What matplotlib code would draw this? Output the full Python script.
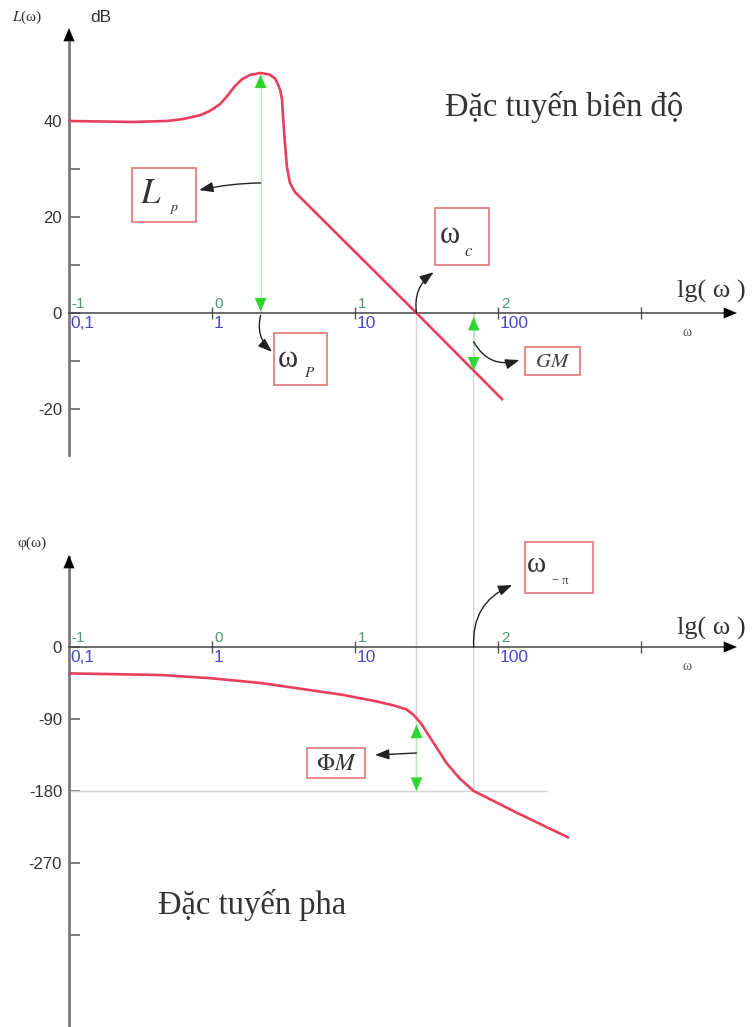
# Bode diagram: magnitude and phase characteristics with margins

import matplotlib
matplotlib.use('Agg')
import matplotlib.pyplot as plt
from matplotlib.patches import Rectangle, ConnectionPatch

plt.rcParams['mathtext.fontset'] = 'stix'

SANS = ['Liberation Sans', 'DejaVu Sans']
SERIF = ['Liberation Serif', 'DejaVu Serif']

# Magnitude characteristic L(w), x = lg(w)
mag_lg = [-1.0, -0.55, -0.315, -0.203, -0.084, -0.014, 0.056, 0.112, 0.161, 0.210,
          0.266, 0.34, 0.40, 0.44, 0.462, 0.478, 0.490, 0.497, 0.510, 0.524, 0.545,
          0.58, 1.43, 2.03]
mag_db = [40.0, 39.8, 40.0, 40.4, 41.2, 42.1, 43.5, 45.4, 47.3, 48.7,
          49.6, 50.0, 49.7, 48.9, 47.6, 46.3, 44.4, 40.8, 35.4, 30.4, 27.1,
          25.2, 0.0, -18.0]

# Phase characteristic phi(w)
phase_lg = [-1.0, -0.36, -0.01, 0.34, 0.69, 0.92, 1.15, 1.27, 1.36, 1.41, 1.46,
            1.55, 1.64, 1.73, 1.83, 2.13, 2.49]
phase_deg = [-33, -35, -39, -45, -54, -60, -68, -73, -78, -85, -95,
             -120, -145, -164, -180, -207, -238]

# Characteristic frequencies (lg) and levels
lg_peak, L_peak = 0.34, 50.0
lg_c = 1.43
lg_pi, L_pi = 1.83, -12.0
phi_c = -90

# Axis ticks and labels
mag_ticks = [-20, -10, 0, 10, 20, 30, 40]
mag_labels = ['-20', '', '0', '', '20', '', '40']
phase_ticks = [-360, -270, -180, -90, 0]
phase_labels = ['', '-270', '-180', '-90', '0']
dec_pos = [-1, 0, 1, 2]
dec_exp = ['-1', '0', '1', '2']
dec_val = ['0,1', '1', '10', '100']

curve_col = '#e8405c'
box_col = '#e06a6a'
green = '#2fd62f'
green_light = '#b8ecb8'
guide = '#d4d4d4'
txt = '#333333'

fig = plt.figure(figsize=(7.52, 10.27), dpi=100)
ax1 = fig.add_axes([69 / 752, 1 - 480 / 1027, 683 / 752, 480 / 1027])
ax2 = fig.add_axes([69 / 752, 0, 683 / 752, 547 / 1027])
ax1.set_xlim(-1, 683 / 143 - 1)
ax2.set_xlim(-1, 683 / 143 - 1)
ax1.set_ylim(-167 / 4.8, 313 / 4.8)
ax2.set_ylim(-380 / 0.8, 167 / 0.8)

x_end = 668 / 143 - 1


def setup(ax, ticks, labels, ybot, ytop, lg_y):
    ax.patch.set_visible(False)
    for s in ['top', 'right']:
        ax.spines[s].set_visible(False)
    ax.spines['left'].set_bounds(ybot, ytop - 3)
    ax.spines['left'].set_color('#7a7a7a')
    ax.spines['left'].set_linewidth(2.0)
    ax.spines['bottom'].set_position(('data', 0))
    ax.spines['bottom'].set_bounds(-1, x_end - 0.05)
    ax.spines['bottom'].set_color('#444444')
    ax.spines['bottom'].set_linewidth(1.1)
    ax.set_yticks(ticks)
    ax.set_yticklabels(labels, fontfamily=SANS, fontsize=12, color=txt)
    ax.tick_params(axis='y', direction='in', length=8, width=1.2, color='#666666', pad=5)
    ax.set_xticks([0, 1, 2, 3])
    ax.tick_params(axis='x', direction='inout', length=9, width=1.0, color='#555555',
                   labelbottom=False)
    # axis arrows
    ax.annotate('', xy=(-1, ytop), xytext=(-1, ytop - 1e-3 * (ytop - ybot)),
                arrowprops=dict(arrowstyle='-|>,head_length=0.6,head_width=0.25',
                                color='black', lw=0, mutation_scale=16),
                annotation_clip=False)
    ax.annotate('', xy=(x_end, 0), xytext=(x_end - 0.01, 0),
                arrowprops=dict(arrowstyle='-|>,head_length=0.6,head_width=0.25',
                                color='black', lw=0, mutation_scale=16),
                annotation_clip=False)
    for p, e, v in zip(dec_pos, dec_exp, dec_val):
        ax.annotate(e, xy=(p, 0), xytext=(2, 1.5), textcoords='offset points',
                    ha='left', va='bottom', fontsize=11, color='#4a9a6a', fontfamily=SANS)
        ax.annotate(v, xy=(p, 0), xytext=(1, -2.5), textcoords='offset points',
                    ha='left', va='top', fontsize=12.5, color='#4848c8', fontfamily=SANS)
    ax.text(3.25, lg_y, 'lg( ω )', fontsize=19, color=txt, fontfamily=SERIF,
            ha='left', va='bottom')
    ax.annotate('ω', xy=(3.29, 0), xytext=(0, -9), textcoords='offset points',
                ha='left', va='top', fontsize=10, color='#555555', fontfamily=SERIF)


setup(ax1, mag_ticks, mag_labels, (313 - 455) / 4.8, (313 - 28) / 4.8, 2.0)
setup(ax2, phase_ticks, phase_labels, -380 / 0.8, (647 - 555) / 0.8, 8.5)

# guide lines
ax1.plot([lg_peak, lg_peak], [0, L_peak], color=green_light, lw=1.0)
ax2.plot([-1, 2.34], [-180, -180], color=guide, lw=1.0)
for lg in (lg_c, lg_pi):
    con = ConnectionPatch(xyA=(lg, 0), coordsA=ax1.transData,
                          xyB=(lg, -180), coordsB=ax2.transData,
                          color=guide, lw=1.0, zorder=0)
    fig.add_artist(con)
ax1.plot([lg_pi, lg_pi], [0, L_pi], color=green_light, lw=1.0)
ax2.plot([lg_c, lg_c], [phi_c, -180], color=green_light, lw=1.0)

# curves
ax1.plot(mag_lg, mag_db, color=curve_col, lw=1.9, solid_capstyle='round',
         solid_joinstyle='round', zorder=3)
ax2.plot(phase_lg, phase_deg, color=curve_col, lw=1.9, solid_capstyle='round',
         solid_joinstyle='round', zorder=3)


def green_head(ax, x, y, ytail):
    ax.annotate('', xy=(x, y), xytext=(x, ytail),
                arrowprops=dict(arrowstyle='-|>,head_length=0.7,head_width=0.3',
                                color=green, lw=0, mutation_scale=14), zorder=4)


green_head(ax1, lg_peak, L_peak - 0.3, L_peak - 1.0)
green_head(ax1, lg_peak, 0.3, 1.0)
green_head(ax1, lg_pi, -0.8, -1.5)
green_head(ax1, lg_pi, L_pi, L_pi + 0.7)
green_head(ax2, lg_c, -97, -100)
green_head(ax2, lg_c, -180, -177)


def arrow(ax, start, end, rad):
    ax.annotate('', xy=end, xytext=start,
                arrowprops=dict(arrowstyle='-|>,head_length=0.6,head_width=0.22',
                                color='#222222', lw=1.0, mutation_scale=14,
                                shrinkA=0, shrinkB=0,
                                connectionstyle=f'arc3,rad={rad}'),
                annotation_clip=False, zorder=5)


def box(ax, x0, y0, x1, y1):
    ax.add_patch(Rectangle((x0, y0), x1 - x0, y1 - y0, fill=False, ec=box_col,
                           lw=1.1, clip_on=False, zorder=5))


# magnitude annotations
box(ax1, -0.559, 19.0, -0.112, 30.2)
ax1.text(-0.50, 25.0, '$L$', fontsize=25, color=txt, va='center', ha='left')
ax1.text(-0.30, 21.6, '$p$', fontsize=10, color=txt, va='center', ha='left')
arrow(ax1, (lg_peak, 27.1), (-0.09, 25.6), 0.05)

box(ax1, 1.559, 10.0, 1.937, 21.9)
ax1.text(1.59, 16.2, 'ω', fontsize=22, color=txt, fontfamily=SERIF, va='center', ha='left')
ax1.text(1.76, 13.0, '$c$', fontsize=12, color=txt, va='center', ha='left')
arrow(ax1, (lg_c, 0), (1.55, 8.5), -0.3)

box(ax1, 0.434, -15.0, 0.804, -4.2)
ax1.text(0.46, -9.6, 'ω', fontsize=22, color=txt, fontfamily=SERIF, va='center', ha='left')
ax1.text(0.64, -12.3, '$P$', fontsize=11, color=txt, va='center', ha='left')
arrow(ax1, (lg_peak, -0.5), (0.42, -8.1), 0.3)

box(ax1, 2.189, -12.9, 2.573, -7.1)
ax1.text(2.38, -10.0, '$GM$', fontsize=15, color='#444444', va='center', ha='center')
arrow(ax1, (lg_pi, -6.0), (2.15, -9.8), 0.4)

ax1.text(1.63, 43.0, 'Đặc tuyến biên độ', fontsize=23.5, color=txt, fontfamily=SERIF,
         ha='left', va='center')
ax1.text(-1.4, 61.6, '$L$(ω)', fontsize=11, color=txt, fontfamily=SERIF, ha='left', va='center')
ax1.text(-0.85, 61.6, 'dB', fontsize=12.5, color=txt, fontfamily=SANS, ha='left', va='center')

# phase annotations
box(ax2, 2.189, 67.5, 2.664, 131.25)
ax2.text(2.20, 102.0, 'ω', fontsize=21, color=txt, fontfamily=SERIF, va='center', ha='left')
ax2.text(2.38, 82.0, '− π', fontsize=9, color=txt, fontfamily=SERIF, va='center', ha='left')
arrow(ax2, (lg_pi, 0), (2.10, 77.5), -0.35)

box(ax2, 0.664, -164.0, 1.070, -126.0)
ax2.text(0.867, -145.0, r'$\Phi M$', fontsize=17, color=txt, va='center', ha='center')
arrow(ax2, (lg_c, -132.5), (1.14, -135.0), 0.0)

ax2.text(-0.38, -322.0, 'Đặc tuyến pha', fontsize=23.5, color=txt, fontfamily=SERIF,
         ha='left', va='center')
ax2.text(-1.36, 130.0, 'φ(ω)', fontsize=11, color=txt, fontfamily=SERIF, ha='left', va='center')

plt.savefig('out.png', dpi=100)
